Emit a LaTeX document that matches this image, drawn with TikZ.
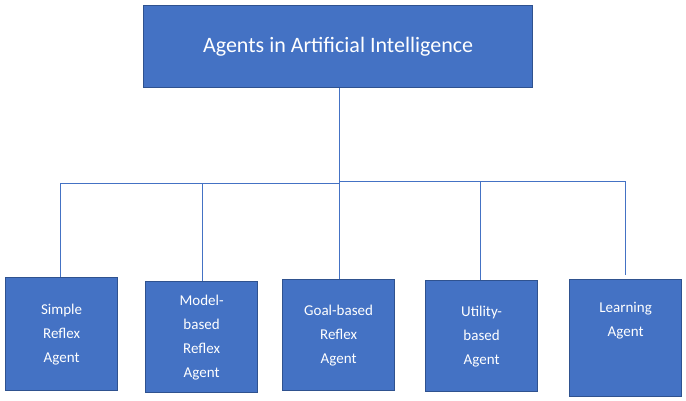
\documentclass[tikz,border=0pt]{standalone}
\usepackage{fontspec}
\setmainfont{Carlito}
\begin{document}
\begin{tikzpicture}[x=1pt,y=-1pt,
  agbox/.style={draw=blue!30!black!60!cyan!0!white!0!blueborder,line width=1.2pt,fill=bluefill,text=white,inner sep=0pt,anchor=north west,align=center,font=\fontsize{15}{24}\selectfont},
  conn/.style={draw=bluefill,line width=0.8pt}]
\definecolor{bluefill}{HTML}{4472C4}
\definecolor{blueborder}{HTML}{2F528F}
\useasboundingbox (0,0) rectangle (686,400);
\fill[white] (0,0) rectangle (686,400);
\node[agbox,minimum width=389pt,minimum height=82pt,font=\fontsize{22}{26}\selectfont] (top) at (143,5) {Agents in Artificial Intelligence};
\node[agbox,minimum width=112pt,minimum height=113pt] (a1) at (5,277) {Simple\\Reflex\\Agent};
\node[agbox,minimum width=112pt,minimum height=111pt] (a2) at (145,281) {Model-\\based\\Reflex\\Agent};
\node[agbox,minimum width=112pt,minimum height=111pt] (a3) at (282,279) {Goal-based\\Reflex\\Agent};
\node[agbox,minimum width=112pt,minimum height=111pt] (a4) at (425,280) {Utility-\\based\\Agent};
\node[agbox,minimum width=112pt,minimum height=117pt] (a5) at (569,279) {Learning\\Agent\\[14pt]};
\coordinate (hub) at (339,182);
\coordinate (l1) at (60,183);
\coordinate (l2) at (202,183);
\coordinate (l4) at (480,181);
\coordinate (l5) at (625,181);
\draw[conn] (top.south -| hub) -- (hub);
\draw[conn] (hub) -- (339,183) -- (l1);
\draw[conn] (hub) -- (339,181) -- (l5);
\draw[conn] (l1) -- (l1 |- a1.north);
\draw[conn] (l2) -- (l2 |- a2.north);
\draw[conn] (hub) -- (a3.north -| hub);
\draw[conn] (l4) -- (l4 |- a4.north);
\draw[conn] (l5) -- (625,275);
\end{tikzpicture}
\end{document}
